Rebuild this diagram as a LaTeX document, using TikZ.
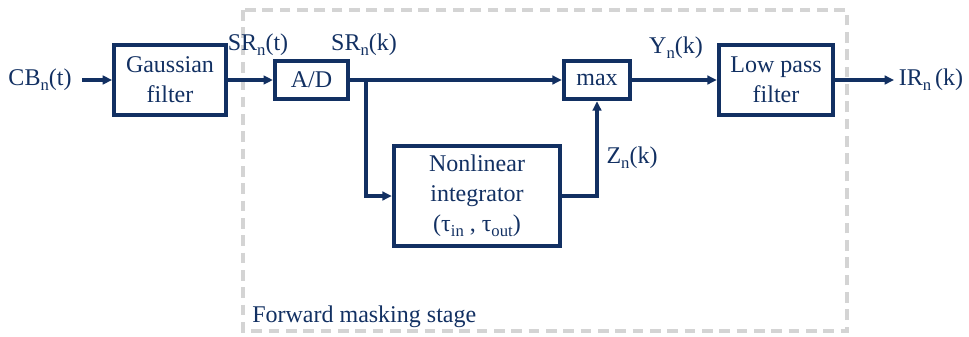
\documentclass[tikz,border=0pt]{standalone}
\usepackage{fontspec}
\setmainfont{Liberation Serif}
\usetikzlibrary{arrows.meta}
\definecolor{navy}{RGB}{18,48,98}
\definecolor{dgray}{RGB}{212,212,212}
\newcommand{\lsub}[1]{\raisebox{-0.45ex}{\fontsize{12.5}{12.5}\selectfont #1}}
\tikzset{
  blk/.style={draw=navy, line width=2.9pt, text=navy, inner sep=0pt, align=center,
              font=\fontsize{18}{22.5}\selectfont},
  lbl/.style={text=navy, inner sep=0pt, font=\fontsize{18}{22.5}\selectfont},
  arr/.style={draw=navy, line width=2.4pt, -{Triangle[length=7pt,width=6.5pt]}},
  stagebox/.style={draw=dgray, line width=2.4pt, dash pattern=on 8pt off 5pt}
}
\begin{document}
\begin{tikzpicture}[x=0.75pt,y=-0.75pt]
\useasboundingbox (0,0) rectangle (969,336);
% dashed stage box
\draw[stagebox] (243,10) rectangle (847,331);
\node[lbl, anchor=west] (stage) at (252,317) {Forward masking stage};
% blocks
\node[blk, minimum width=84pt, minimum height=52pt] (gauss) at (170,80) {Gaussian\\filter};
\node[blk, minimum width=55pt, minimum height=29pt] (ad) at (311.5,80) {A/D};
\node[blk, minimum width=50pt, minimum height=29pt] (max) at (597,80) {max};
\node[blk, minimum width=86pt, minimum height=52pt] (lpf) at (776,80) {Low pass\\filter};
\node[blk, minimum width=125pt, minimum height=75pt] (integ) at (477,196) {Nonlinear\\integrator\\(τ\lsub{in} , τ\lsub{out})};
% labels
\node[lbl] (cb) at (40,80) {CB\lsub{n}(t)};
\node[lbl] (srt) at (258,45) {SR\lsub{n}(t)};
\node[lbl] (srk) at (364,45) {SR\lsub{n}(k)};
\node[lbl] (yk) at (676,48) {Y\lsub{n}(k)};
\node[lbl] (ir) at (931,80) {IR\lsub{n}\,(k)};
\node[lbl] (zk) at (632,158) {Z\lsub{n}(k)};
% connectors
\coordinate (cbout) at (82,80);
\coordinate (br) at (366,80);
\coordinate (irin) at (894,80);
\draw[arr] (cbout) -- (gauss);
\draw[arr] (gauss) -- (ad);
\draw[arr] (ad) -- (max);
\draw[arr] (br) |- (integ);
\draw[arr] (integ) -| (max);
\draw[arr] (max) -- (lpf);
\draw[arr] (lpf) -- (irin);
\end{tikzpicture}
\end{document}
